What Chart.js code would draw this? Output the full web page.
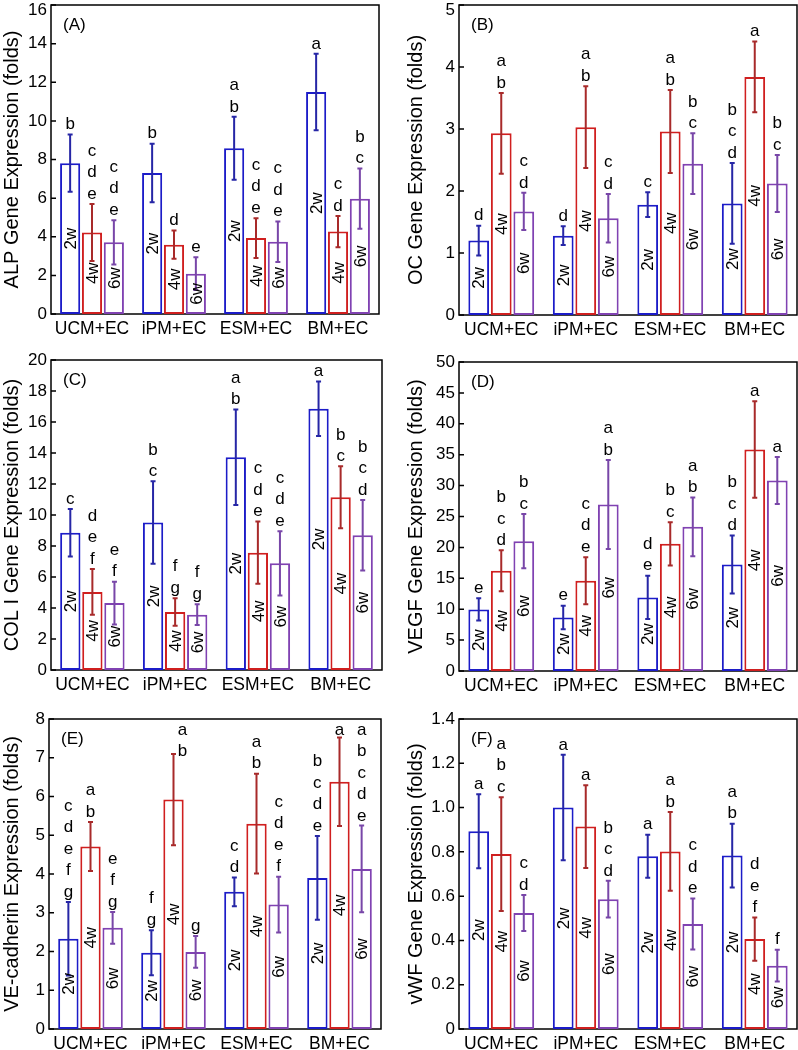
<!DOCTYPE html>
<html lang="en">
<head>
<meta charset="UTF-8">
<title>Gene expression (folds)</title>
<script src="https://cdn.jsdelivr.net/npm/chart.js"></script>
<style>
    body {
        margin: 0;
        background: #fff;
        width: 798px;
        height: 1050px;
        position: relative;
        overflow: hidden;
    }
    .panel {
        position: absolute;
    }
</style>
</head>
<body>
<div class="panel" id="boxA"><canvas id="chartA"></canvas></div>
<div class="panel" id="boxB"><canvas id="chartB"></canvas></div>
<div class="panel" id="boxC"><canvas id="chartC"></canvas></div>
<div class="panel" id="boxD"><canvas id="chartD"></canvas></div>
<div class="panel" id="boxE"><canvas id="chartE"></canvas></div>
<div class="panel" id="boxF"><canvas id="chartF"></canvas></div>

<script>
const groups = ['UCM+EC', 'iPM+EC', 'ESM+EC', 'BM+EC'];
const weeks = ['2w', '4w', '6w'];

// each panel: rows are 2w, 4w, 6w; columns follow groups
// (A) ALP
const alpMean = [[7.81, 7.30, 8.58, 11.49], [4.22, 3.59, 3.93, 4.27], [3.71, 2.09, 3.74, 5.97]];
const alpErr = [[1.48, 1.52, 1.63, 1.98], [1.48, 0.73, 1.03, 0.81], [1.15, 0.85, 1.05, 1.56]];
const alpLetters = [['b', 'b', 'ab', 'a'], ['cde', 'd', 'cde', 'cd'], ['cde', 'e', 'cde', 'bc']];

// (B) OC
const ocMean = [[1.20, 1.28, 1.78, 1.80], [2.93, 3.03, 2.96, 3.84], [1.67, 1.56, 2.44, 2.12]];
const ocErr = [[0.24, 0.15, 0.20, 0.65], [0.65, 0.66, 0.67, 0.57], [0.30, 0.39, 0.49, 0.46]];
const ocLetters = [['d', 'd', 'c', 'bcd'], ['ab', 'ab', 'ab', 'a'], ['cd', 'cd', 'bc', 'bc']];

// (C) COL I
const colMean = [[8.86, 9.51, 13.73, 16.86], [5.04, 3.74, 7.57, 11.14], [4.32, 3.57, 6.88, 8.69]];
const colErr = [[1.53, 2.66, 3.08, 1.76], [1.48, 0.89, 2.01, 2.00], [1.38, 0.67, 2.07, 2.27]];
const colLetters = [['c', 'bc', 'ab', 'a'], ['def', 'fg', 'cde', 'bc'], ['ef', 'fg', 'cde', 'bcd']];

// (D) VEGF
const vegfMean = [[9.97, 8.67, 11.91, 17.24], [16.22, 14.60, 20.58, 35.83], [21.01, 26.94, 23.33, 30.82]];
const vegfErr = [[1.8, 1.9, 3.5, 4.7], [3.3, 3.8, 3.5, 7.8], [4.4, 7.2, 4.75, 3.8]];
const vegfLetters = [['e', 'e', 'de', 'bcd'], ['bcd', 'cde', 'bc', 'a'], ['bc', 'ab', 'ab', 'a']];

// (E) VE-cadherin
const vecMean = [[2.33, 1.97, 3.54, 3.90], [4.71, 5.92, 5.30, 6.38], [2.61, 1.99, 3.21, 4.13]];
const vecErr = [[0.95, 0.58, 0.37, 1.08], [0.63, 1.18, 1.29, 1.14], [0.41, 0.41, 0.72, 1.12]];
const vecLetters = [['cdefg', 'fg', 'cd', 'bcde'], ['ab', 'ab', 'ab', 'a'], ['efg', 'g', 'cdef', 'abcde']];

// (F) vWF
const vwfMean = [[0.893, 1.000, 0.780, 0.783], [0.790, 0.914, 0.802, 0.406], [0.524, 0.586, 0.474, 0.286]];
const vwfErr = [[0.167, 0.238, 0.097, 0.144], [0.257, 0.187, 0.178, 0.098], [0.081, 0.083, 0.115, 0.072]];
const vwfLetters = [['a', 'a', 'a', 'ab'], ['abc', 'a', 'ab', 'def'], ['cd', 'bcd', 'cde', 'f']];

const yTitles = [
    'ALP Gene Expression (folds)', 'OC Gene Expression (folds)',
    'COL I Gene Expression (folds)', 'VEGF Gene Expression (folds)',
    'VE-cadherin Expression (folds)', 'vWF Gene Expression (folds)'
];
const yMax = [16, 5, 20, 50, 8, 1.4];
const yStep = [2, 1, 2, 5, 1, 0.2];
const panelTags = ['(A)', '(B)', '(C)', '(D)', '(E)', '(F)'];

// page layout: canvas box and plot frame (page pixels)
const boxes = [
    { id: 'A', x: 0,   y: -10, w: 399, h: 350, frame: [51, 5, 379, 314], titlePad: 0, topShift: 5 },
    { id: 'B', x: 400, y: -10, w: 398, h: 350, frame: [459, 5, 797, 315], titlePad: 4, topShift: 5 },
    { id: 'C', x: 0,   y: 335, w: 399, h: 360, frame: [51, 360, 382, 670], titlePad: 0, topShift: 0 },
    { id: 'D', x: 400, y: 335, w: 398, h: 360, frame: [459, 362, 797, 671], titlePad: 4, topShift: 0 },
    { id: 'E', x: 0,   y: 695, w: 399, h: 355, frame: [49, 719, 381, 1029], titlePad: 0, topShift: 0 },
    { id: 'F', x: 400, y: 695, w: 398, h: 355, frame: [459, 719, 797, 1029], titlePad: 4, topShift: 0 }
];

const panelData = [
    [alpMean, alpErr, alpLetters],
    [ocMean, ocErr, ocLetters],
    [colMean, colErr, colLetters],
    [vegfMean, vegfErr, vegfLetters],
    [vecMean, vecErr, vecLetters],
    [vwfMean, vwfErr, vwfLetters]
];

const FONT = "'Liberation Sans', Arial, sans-serif";
const barColors = ['#1c1cc8', '#d01f1f', '#8042b2'];
const errColors = ['#2626a6', '#a82a2a', '#7846a8'];
const LETTER_STEP = 21.5;

function fmtTick(v, decimals) {
    return v === 0 ? '0' : Number(v).toFixed(decimals);
}

// frame, inward ticks, error bars, letters and in-bar week labels
const panelDecor = {
    id: 'panelDecor',
    beforeDatasetsDraw(chart) {
        const { ctx, chartArea: a } = chart;
        const y = chart.scales.y;
        ctx.save();
        ctx.strokeStyle = '#000';
        ctx.lineWidth = 1.5;
        ctx.strokeRect(a.left, a.top, a.right - a.left, a.bottom - a.top);
        ctx.beginPath();
        y.ticks.forEach(t => {
            const py = y.getPixelForValue(t.value);
            ctx.moveTo(a.left, py);
            ctx.lineTo(a.left + 5, py);
        });
        ctx.stroke();
        ctx.restore();
    },
    afterDatasetsDraw(chart, args, opts) {
        const { ctx, chartArea: a } = chart;
        const y = chart.scales.y;
        ctx.save();
        ctx.font = '17px ' + FONT;
        chart.data.datasets.forEach((ds, i) => {
            chart.getDatasetMeta(i).data.forEach((bar, j) => {
                const m = ds.data[j];
                const e = ds.errors[j];
                const x = bar.x;
                const yt = y.getPixelForValue(m + e);
                const yb = y.getPixelForValue(m - e);

                ctx.strokeStyle = errColors[i];
                ctx.lineWidth = 2;
                ctx.beginPath();
                ctx.moveTo(x, yt); ctx.lineTo(x, yb);
                ctx.moveTo(x - 2.5, yt); ctx.lineTo(x + 2.5, yt);
                ctx.moveTo(x - 2.5, yb); ctx.lineTo(x + 2.5, yb);
                ctx.stroke();

                ctx.fillStyle = '#000';
                ctx.textAlign = 'center';
                ctx.textBaseline = 'middle';
                // letter stack sits above the error bar; pushed down (and aside) if it hits the frame
                const letters = ds.letters[j].split('').reverse();
                let base = yt - 10;
                let lx = x;
                const topY = base - (letters.length - 1) * LETTER_STEP;
                const shift = a.top + 11 - topY;
                if (shift > 0) {
                    base += shift;
                    if (shift > 5) lx = x + 9;
                }
                letters.forEach((ch, k) => {
                    ctx.fillText(ch, lx, base - k * LETTER_STEP);
                });

                ctx.save();
                ctx.translate(x, y.getPixelForValue(m / 2));
                ctx.rotate(-Math.PI / 2);
                ctx.fillText(ds.label, 0, 1);
                ctx.restore();
            });
        });
        ctx.fillStyle = '#000';
        ctx.textAlign = 'left';
        ctx.textBaseline = 'middle';
        ctx.fillText(opts.tag, a.left + 12, a.top + 20);

        // top tick label nudged down where the figure edge is tight
        if (opts.topShift) {
            ctx.textAlign = 'right';
            ctx.fillText(fmtTick(y.max, opts.decimals), a.left - 4, y.getPixelForValue(y.max) + opts.topShift);
        }
        ctx.restore();
    }
};

boxes.forEach((b, p) => {
    const holder = document.getElementById('box' + b.id);
    holder.style.left = b.x + 'px';
    holder.style.top = b.y + 'px';
    const canvas = document.getElementById('chart' + b.id);
    canvas.width = b.w;
    canvas.height = b.h;

    const [fl, ft, fr, fb] = b.frame;
    const [means, errs, letters] = panelData[p];
    const decimals = yStep[p] < 1 ? 1 : 0;

    new Chart(canvas, {
        type: 'bar',
        data: {
            labels: groups,
            datasets: weeks.map((w, i) => ({
                label: w,
                data: means[i],
                errors: errs[i],
                letters: letters[i],
                backgroundColor: '#ffffff',
                borderColor: barColors[i],
                borderWidth: 2,
                borderSkipped: false,
                categoryPercentage: 0.8,
                barPercentage: 0.92
            }))
        },
        options: {
            responsive: false,
            animation: false,
            layout: {
                padding: { top: ft - b.y, right: b.x + b.w - fr, left: 0, bottom: 0 }
            },
            plugins: {
                legend: { display: false },
                tooltip: { enabled: false },
                panelDecor: { tag: panelTags[p], topShift: b.topShift, decimals: decimals }
            },
            scales: {
                x: {
                    grid: { display: false, drawTicks: false },
                    border: { display: false },
                    ticks: { color: '#000', font: { family: FONT, size: 17.5 }, padding: 5, maxRotation: 0 },
                    afterFit(scale) { scale.height = b.y + b.h - fb; }
                },
                y: {
                    min: 0,
                    max: yMax[p],
                    grid: { display: false, drawTicks: false },
                    border: { display: false },
                    ticks: {
                        stepSize: yStep[p],
                        color: '#000',
                        font: { family: FONT, size: 17 },
                        padding: 4,
                        callback: v => (b.topShift && v === yMax[p] ? '' : fmtTick(v, decimals))
                    },
                    title: {
                        display: true,
                        text: yTitles[p],
                        color: '#000',
                        font: { family: FONT, size: 20 },
                        padding: { top: b.titlePad, bottom: 0 }
                    },
                    afterFit(scale) { scale.width = fl - b.x; }
                }
            }
        },
        plugins: [panelDecor]
    });
});
</script>
</body>
</html>
